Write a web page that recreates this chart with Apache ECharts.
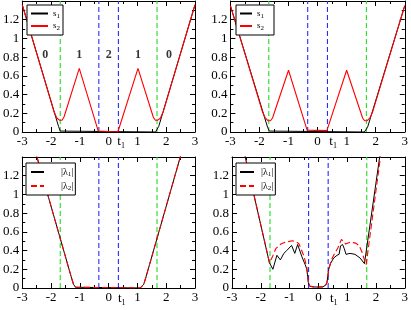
<!DOCTYPE html>
<html>
<head>
<meta charset="utf-8">
<script src="https://cdn.jsdelivr.net/npm/echarts@6/dist/echarts.min.js"></script>
<style>
html,body{margin:0;padding:0;background:#fff;}
#chart{width:411px;height:310px;}
</style>
</head>
<body>
<div id="chart"></div>
<script>
// ---- axis / tick values ----
const xTicks = [-3, -2, -1, 0, 1, 2, 3];
const yTicks = [0, 0.2, 0.4, 0.6, 0.8, 1, 1.2, 1.4];
const yHiddenTick = 1.4;

// ---- vertical reference lines (t1 positions) ----
const greenLines = [-1.68, 1.68];
const blueLines = [-0.34, 0.34];

// ---- region labels in the top-left panel ----
const regionX = [-2.2, -1.02, 0, 1.02, 2.1];
const regionY = [0.82, 0.82, 0.82, 0.82, 0.82];
const regionText = ['0', '1', '2', '1', '0'];

// ---- top-left panel: s1, s2 ----
const tlS1 = [[-3,1.36],[-1.74,0.06],[-1.68,0.01],[-1.63,0],[1.63,0],[1.68,0.01],[1.74,0.06],[3,1.36]];
const tlS2 = [[-3,1.36],[-1.9,0.22],[-1.8,0.15],[-1.7,0.125],[-1.62,0.125],[-1.55,0.16],[-1.02,0.68],[-0.36,0.01],[-0.32,0],[0.32,0],[0.36,0.01],[1.02,0.68],[1.55,0.16],[1.62,0.125],[1.7,0.125],[1.8,0.15],[1.9,0.22],[3,1.36]];

// ---- top-right panel: s1, s2 ----
const trS1 = [[-3,1.35],[-1.72,0.05],[-1.66,0.01],[-1.61,0],[1.61,0],[1.66,0.01],[1.72,0.05],[3,1.35]];
const trS2 = [[-3,1.35],[-1.9,0.22],[-1.8,0.15],[-1.7,0.12],[-1.62,0.12],[-1.55,0.15],[-1.0,0.66],[-0.36,0.02],[-0.32,0.015],[0.32,0.015],[0.36,0.02],[1.0,0.66],[1.55,0.15],[1.62,0.12],[1.7,0.12],[1.8,0.15],[1.9,0.22],[3,1.35]];

// ---- bottom-left panel: |lambda1|, |lambda2| ----
const blL1 = [[-3,1.95],[-1.3,0.12],[-1.22,0.04],[-1.15,0.008],[-1.1,0],[1.1,0],[1.15,0.008],[1.22,0.04],[1.3,0.12],[3,1.95]];
const blL2 = [[-3,1.95],[-1.3,0.12],[-1.22,0.04],[-1.15,0.008],[-1.1,0],[1.1,0],[1.15,0.008],[1.22,0.04],[1.3,0.12],[3,1.95]];

// ---- bottom-right panel: |lambda1|, |lambda2| ----
const brL1 = [[-3,2.02],[-1.70,0.27],[-1.58,0.2],[-1.44,0.35],[-1.32,0.30],[-1.2,0.37],[-1.1,0.40],[-0.93,0.455],[-0.82,0.37],[-0.72,0.465],[-0.58,0.34],[-0.46,0.25],[-0.40,0.2],[-0.35,0.06],[-0.3,0.02],[-0.2,0.012],[0,0.01],[0.15,0.012],[0.25,0.03],[0.3,0.06],[0.36,0.2],[0.42,0.26],[0.53,0.32],[0.65,0.35],[0.72,0.36],[0.77,0.45],[0.84,0.465],[0.9,0.42],[0.96,0.36],[1.1,0.37],[1.27,0.36],[1.45,0.32],[1.6,0.26],[1.66,0.25],[2.5,2.2]];
const brL2 = [[-3,2.02],[-1.70,0.27],[-1.6,0.33],[-1.48,0.42],[-1.3,0.47],[-1.15,0.49],[-0.9,0.505],[-0.75,0.49],[-0.67,0.47],[-0.58,0.4],[-0.5,0.34],[-0.4,0.22],[-0.34,0.05],[-0.3,0.02],[-0.15,0.012],[0,0.01],[0.15,0.012],[0.25,0.03],[0.3,0.06],[0.36,0.2],[0.45,0.3],[0.55,0.36],[0.68,0.43],[0.8,0.52],[0.95,0.47],[1.1,0.49],[1.3,0.48],[1.42,0.45],[1.52,0.38],[1.6,0.3],[1.66,0.25],[2.5,2.2]];

// ---- layout / styling ----
const FONT = "'Liberation Serif','DejaVu Serif',serif";
const BLACK = '#000000', RED = '#ff0000', GREEN = '#22dd22', BLUE = '#2a2aff';
const grids = [
  {left: 20, top: 1, width: 175, height: 131},
  {left: 230.4, top: 1, width: 175, height: 131},
  {left: 20, top: 157, width: 175, height: 131},
  {left: 232, top: 157, width: 175, height: 131}
];

const xMin = xTicks[0], xMax = xTicks[xTicks.length - 1];
const xStep = xTicks[1] - xTicks[0];
const yMin = yTicks[0], yMax = yTicks[yTicks.length - 1];
const yStep = yTicks[1] - yTicks[0];

const xAxes = [], yAxes = [];
grids.forEach((g, gi) => {
  const common = {
    gridIndex: gi, type: 'value',
    axisLine: {show: true, onZero: false, lineStyle: {color: BLACK, width: 1}},
    axisTick: {show: true, inside: true, length: 5, lineStyle: {color: BLACK, width: 1}},
    minorTick: {show: true, splitNumber: 2, length: 3, lineStyle: {color: BLACK, width: 1}},
    splitLine: {show: false}, minorSplitLine: {show: false}
  };
  ['bottom', 'top'].forEach((pos, k) => {
    xAxes.push(Object.assign({}, common, {
      position: pos, min: xMin, max: xMax, interval: xStep,
      axisLabel: {show: k === 0, margin: 3, color: BLACK, fontFamily: FONT, fontSize: 13,
        showMinLabel: true, showMaxLabel: true, hideOverlap: false}
    }));
  });
  ['left', 'right'].forEach((pos, k) => {
    yAxes.push(Object.assign({}, common, {
      position: pos, min: yMin, max: yMax, interval: yStep,
      axisLabel: {show: k === 0, margin: 3, color: BLACK, fontFamily: FONT, fontSize: 13,
        showMinLabel: true, showMaxLabel: true, hideOverlap: false,
        formatter: v => (Math.abs(v - yHiddenTick) < 1e-6 ? '' : String(+(+v).toFixed(1)))}
    }));
  });
});

const series = [];
function vline(gi, x, color, id) {
  series.push({
    type: 'line', id: id, name: id, xAxisIndex: gi * 2, yAxisIndex: gi * 2, symbol: 'none', silent: true,
    data: [[x, yMin], [x, yMax]], color: color,
    lineStyle: {color: color, width: 1.1, type: [5, 3]}, z: 1
  });
}
grids.forEach((g, gi) => {
  greenLines.forEach((x, i) => vline(gi, x, GREEN, 'vg' + gi + '_' + i));
  blueLines.forEach((x, i) => vline(gi, x, BLUE, 'vb' + gi + '_' + i));
});
function curve(gi, name, data, color, dashed, width) {
  series.push({
    type: 'line', name: name, xAxisIndex: gi * 2, yAxisIndex: gi * 2, symbol: 'none',
    data: data, clip: true, z: 3, color: color,
    lineStyle: {color: color, width: width, type: dashed ? [6, 3] : 'solid'},
    itemStyle: {color: color}
  });
}
curve(0, 's1', tlS1, BLACK, false, 1);
curve(0, 's2', tlS2, RED, false, 1.1);
curve(1, 's1', trS1, BLACK, false, 1);
curve(1, 's2', trS2, RED, false, 1.1);
curve(2, 'l1', blL1, BLACK, false, 1);
curve(2, 'l2', blL2, RED, true, 1.1);
curve(3, 'l1', brL1, BLACK, false, 1);
curve(3, 'l2', brL2, RED, true, 1.1);

series.push({
  type: 'scatter', name: 'regions', xAxisIndex: 0, yAxisIndex: 0, symbolSize: 0, silent: true, z: 4,
  data: regionX.map((x, i) => [x, regionY[i]]),
  label: {show: true, position: 'inside', formatter: p => regionText[p.dataIndex],
    color: BLACK, fontFamily: FONT, fontSize: 12, fontWeight: 'bold'}
});

const legendRich = {sub: {fontSize: 7, fontFamily: FONT, color: BLACK, padding: [5, 0, 0, 0]}};
function legendFmt(name) {
  if (name === 's1') return 's{sub|1}';
  if (name === 's2') return 's{sub|2}';
  if (name === 'l1') return '|λ{sub|1}|';
  return '|λ{sub|2}|';
}
function legend(left, top, names, iw, ih, gap, pad, textPadLeft, fs) {
  return {
    left: left, top: top, orient: 'vertical', data: names,
    backgroundColor: '#ffffff', borderColor: BLACK, borderWidth: 1, borderRadius: 0,
    padding: pad, itemWidth: iw, itemHeight: ih, itemGap: gap, z: 10,
    selectedMode: false, formatter: legendFmt,
    itemStyle: {color: 'rgba(0,0,0,0)', borderWidth: 0, opacity: 0},
    textStyle: {fontFamily: FONT, fontSize: fs, color: BLACK, padding: [0, 0, 0, textPadLeft], rich: legendRich}
  };
}

const graphics = [];
[[117.3, 142.5], [329.3, 142.5], [118, 299], [330, 299]].forEach(p => {
  graphics.push({type: 'text', left: p[0], top: p[1] - 7, silent: true,
    style: {text: 't', font: '13px ' + FONT, fill: BLACK}});
  graphics.push({type: 'text', left: p[0] + 3.6, top: p[1] - 0.5, silent: true,
    style: {text: '1', font: '8px ' + FONT, fill: BLACK}});
});

const option = {
  animation: false,
  backgroundColor: '#ffffff',
  grid: grids.map(g => Object.assign({show: false, containLabel: false}, g)),
  xAxis: xAxes,
  yAxis: yAxes,
  legend: [
    legend(27, 5, ['s1', 's2'], 17, 8, 2, [4, 3, 3, 3], 0, 9),
    legend(236, 5, ['s1', 's2'], 12, 8, 2, [4, 10, 3, 3], 0, 9),
    legend(26, 163, ['l1', 'l2'], 13, 10, 3, [4, 2, 3, 4], 12, 10),
    legend(236, 163, ['l1', 'l2'], 14, 10, 3, [4, 2, 3, 3], 2, 10)
  ],
  graphic: graphics,
  series: series
};

const chart = echarts.init(document.getElementById('chart'), null, {renderer: 'canvas'});
chart.setOption(option);
</script>
</body>
</html>
